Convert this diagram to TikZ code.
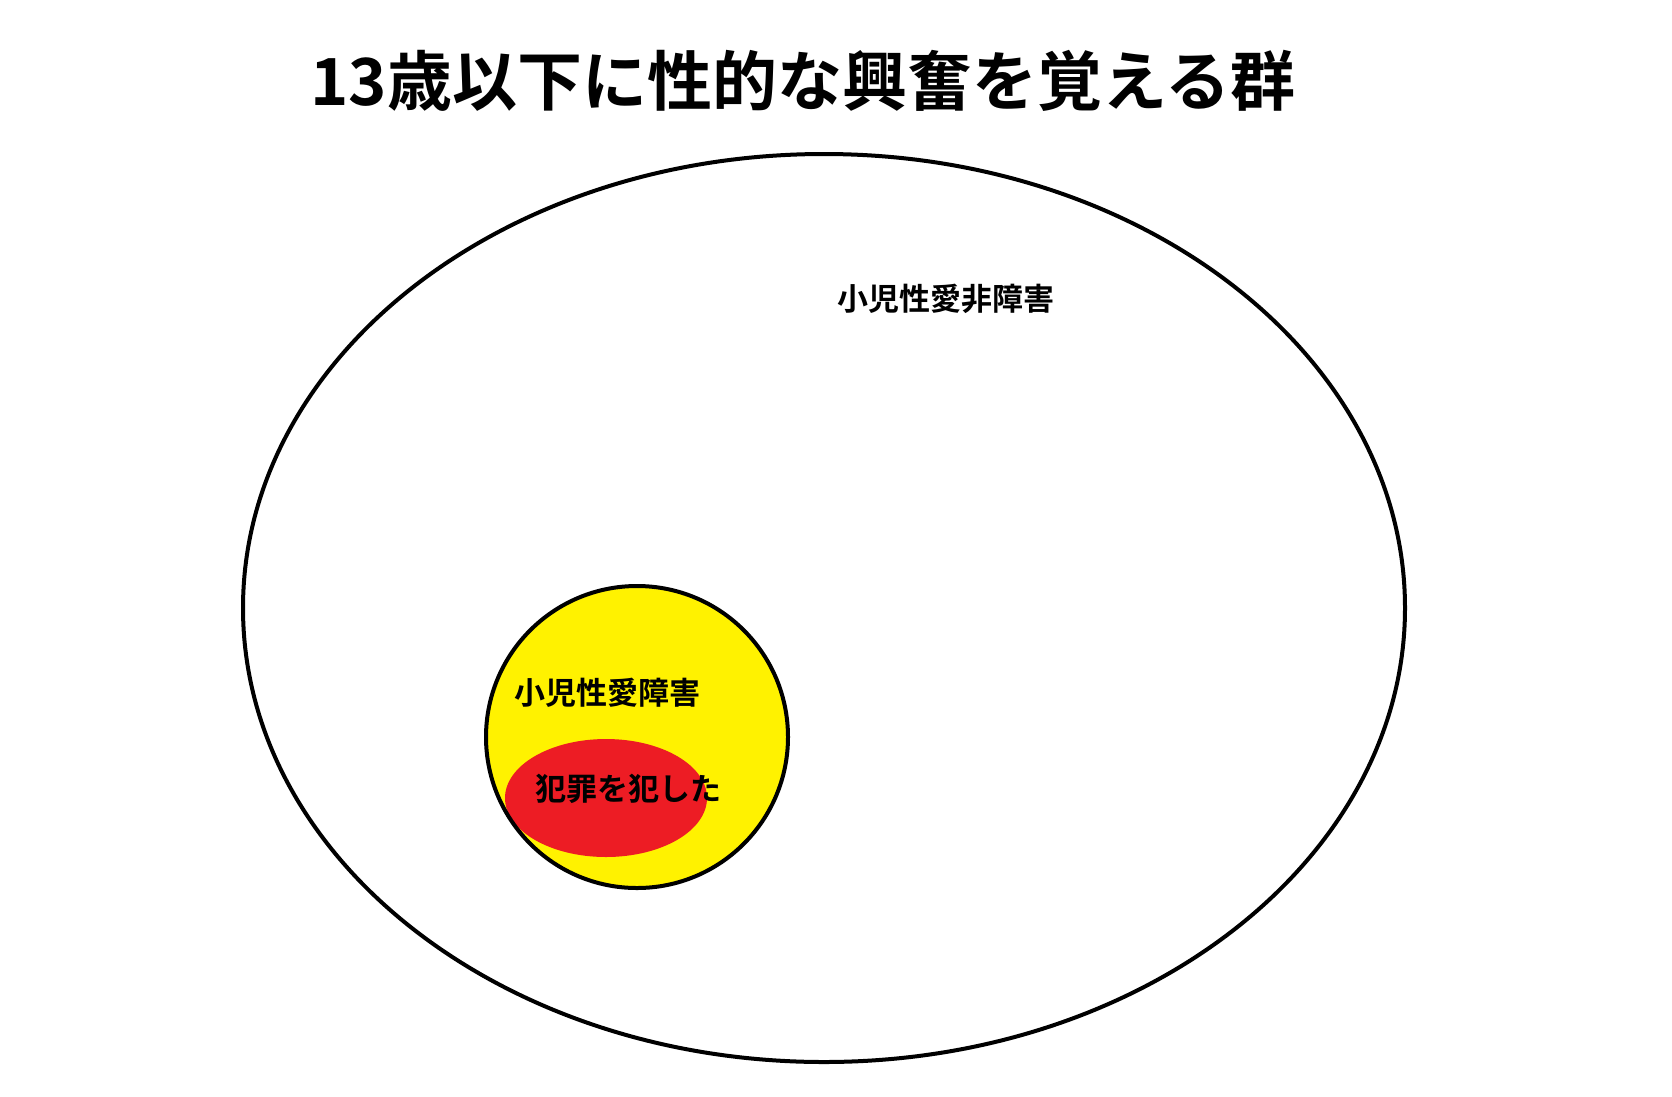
\documentclass[tikz,border=0pt]{standalone}
\usepackage{fontspec}
\newfontfamily\jpfont{Noto Sans CJK JP}[BoldFont={Noto Sans CJK JP Bold}]
\definecolor{ylw}{RGB}{255,242,0}
\definecolor{rd}{RGB}{237,28,36}
\tikzset{
  lbl/.style={font=\jpfont\bfseries\fontsize{31}{31}\selectfont, inner sep=0pt},
  ttl/.style={font=\jpfont\bfseries\fontsize{65}{65}\selectfont, inner sep=0pt},
}
\begin{document}
\begin{tikzpicture}[x=1pt,y=-1pt]
\useasboundingbox[fill=white] (0,0) rectangle (1672,1096);
\node[ttl] (title) at (803,81) {13歳以下に性的な興奮を覚える群};
\draw[line width=4pt] (824,608) ellipse [x radius=581, y radius=454];
\fill[ylw] (637,737) circle [radius=151];
\begin{scope}
  \clip (637,737) circle [radius=151];
  \fill[rd] (606,798) ellipse [x radius=101, y radius=59];
\end{scope}
\draw[line width=4pt] (637,737) circle [radius=151];
\node[lbl] (nonp) at (946,299) {小児性愛非障害};
\node[lbl] (ped) at (607,693) {小児性愛障害};
\node[lbl] (crime) at (628,789) {犯罪を犯した};
\end{tikzpicture}
\end{document}
